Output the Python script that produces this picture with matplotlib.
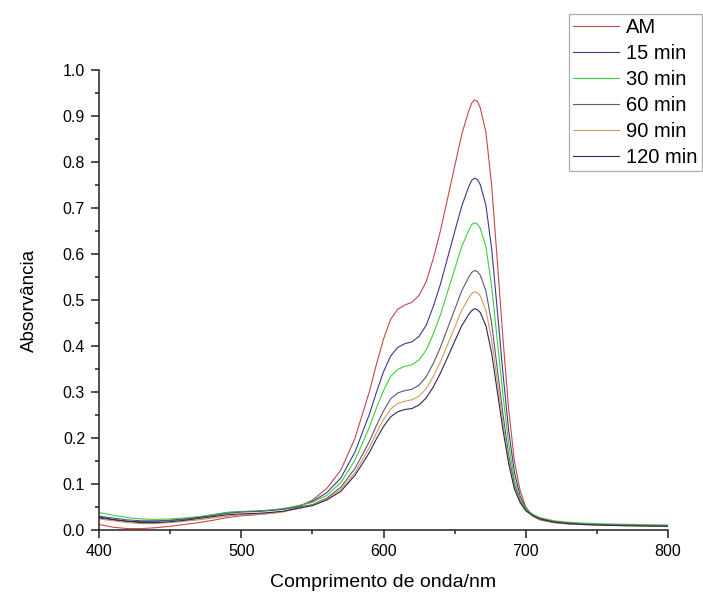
import matplotlib
matplotlib.use("Agg")
import matplotlib.pyplot as plt
from matplotlib.ticker import MultipleLocator

plt.rcParams['font.family'] = ['Liberation Sans', 'DejaVu Sans']

wavelength = [400, 410, 420, 430, 440, 450, 460, 470, 480, 490, 500, 510, 520, 530, 540,
              550, 560, 570, 580, 590, 595, 600, 605, 610, 615, 620, 625, 630, 635, 640,
              645, 650, 655, 660, 662, 664, 666, 668, 672, 676, 680, 684, 688, 692, 696, 700,
              705, 710, 720, 730, 740, 750, 760, 780, 800]

am = [0.012, 0.006, 0.003, 0.003, 0.005, 0.008, 0.012, 0.016, 0.021, 0.027, 0.031, 0.033, 0.036, 0.040, 0.049,
      0.065, 0.090, 0.130, 0.200, 0.300, 0.360, 0.415, 0.458, 0.480, 0.489, 0.495, 0.510, 0.540, 0.590, 0.650,
      0.720, 0.790, 0.860, 0.912, 0.928, 0.935, 0.932, 0.918, 0.865, 0.750, 0.585, 0.415, 0.262, 0.150, 0.086, 0.050,
      0.030, 0.022, 0.016, 0.013, 0.012, 0.011, 0.010, 0.009, 0.008]
min15 = [0.026, 0.022, 0.019, 0.018, 0.019, 0.021, 0.024, 0.028, 0.033, 0.038, 0.040, 0.041, 0.043, 0.046, 0.052,
         0.062, 0.081, 0.113, 0.170, 0.251, 0.299, 0.344, 0.378, 0.397, 0.405, 0.409, 0.421, 0.445, 0.486, 0.534,
         0.591, 0.648, 0.704, 0.747, 0.760, 0.765, 0.762, 0.751, 0.706, 0.612, 0.478, 0.340, 0.216, 0.126, 0.074, 0.047,
         0.032, 0.025, 0.018, 0.015, 0.013, 0.012, 0.011, 0.010, 0.009]
min30 = [0.038, 0.032, 0.027, 0.024, 0.023, 0.024, 0.026, 0.029, 0.033, 0.038, 0.040, 0.041, 0.043, 0.047, 0.053,
         0.060, 0.075, 0.103, 0.152, 0.223, 0.265, 0.303, 0.334, 0.349, 0.356, 0.359, 0.370, 0.391, 0.426, 0.468,
         0.517, 0.567, 0.616, 0.652, 0.664, 0.668, 0.665, 0.656, 0.616, 0.531, 0.412, 0.293, 0.187, 0.110, 0.068, 0.046,
         0.034, 0.027, 0.020, 0.017, 0.015, 0.014, 0.013, 0.012, 0.011]
min60 = [0.030, 0.026, 0.022, 0.020, 0.020, 0.021, 0.023, 0.027, 0.031, 0.036, 0.039, 0.040, 0.042, 0.045, 0.050,
         0.055, 0.069, 0.093, 0.134, 0.192, 0.227, 0.259, 0.285, 0.298, 0.303, 0.306, 0.315, 0.333, 0.362, 0.397,
         0.438, 0.479, 0.520, 0.550, 0.560, 0.564, 0.562, 0.554, 0.520, 0.450, 0.350, 0.251, 0.163, 0.099, 0.063, 0.043,
         0.032, 0.025, 0.018, 0.015, 0.013, 0.012, 0.011, 0.010, 0.009]
min90 = [0.024, 0.020, 0.016, 0.014, 0.014, 0.016, 0.019, 0.022, 0.026, 0.030, 0.033, 0.034, 0.036, 0.040, 0.047,
         0.054, 0.067, 0.088, 0.125, 0.179, 0.211, 0.240, 0.263, 0.275, 0.280, 0.283, 0.291, 0.307, 0.334, 0.366,
         0.403, 0.440, 0.478, 0.505, 0.514, 0.518, 0.516, 0.509, 0.478, 0.414, 0.323, 0.232, 0.152, 0.093, 0.061, 0.042,
         0.031, 0.024, 0.017, 0.014, 0.012, 0.011, 0.010, 0.009, 0.008]
min120 = [0.028, 0.023, 0.019, 0.016, 0.016, 0.018, 0.021, 0.025, 0.029, 0.033, 0.035, 0.036, 0.038, 0.041, 0.047,
          0.053, 0.065, 0.084, 0.119, 0.168, 0.198, 0.225, 0.246, 0.257, 0.262, 0.264, 0.272, 0.287, 0.311, 0.341,
          0.375, 0.410, 0.444, 0.469, 0.477, 0.481, 0.479, 0.473, 0.444, 0.385, 0.301, 0.217, 0.144, 0.089, 0.060, 0.042,
          0.031, 0.024, 0.017, 0.014, 0.012, 0.011, 0.010, 0.009, 0.008]

labels = ['AM', '15 min', '30 min', '60 min', '90 min', '120 min']
series = [am, min15, min30, min60, min90, min120]
colors = ['#c8474a', '#3a3a8c', '#3cd13c', '#5a5a78', '#d8995a', '#2a2a5a']

fig = plt.figure(figsize=(7.03, 5.99), dpi=100)
ax = fig.add_axes([99/703, 1-530/599, (668-99)/703, (530-70)/599])

for y, lab, c in zip(series, labels, colors):
    ax.plot(wavelength, y, color=c, lw=0.8, label=lab, solid_joinstyle='round')

ax.set_xlim(400, 800)
ax.set_ylim(0, 1.0)
ax.xaxis.set_major_locator(MultipleLocator(100))
ax.xaxis.set_minor_locator(MultipleLocator(50))
ax.yaxis.set_major_locator(MultipleLocator(0.1))
ax.yaxis.set_minor_locator(MultipleLocator(0.05))
ax.yaxis.set_major_formatter(matplotlib.ticker.FormatStrFormatter('%.1f'))
for s in ['top', 'right']:
    ax.spines[s].set_visible(False)
for s in ['left', 'bottom']:
    ax.spines[s].set_linewidth(1.1)
    ax.spines[s].set_color('#222222')
ax.tick_params(which='major', direction='out', length=6, width=1.1, labelsize=11.5, pad=4, color='#222222')
ax.tick_params(which='minor', direction='out', length=3, width=1.1, color='#222222')

ax.set_xlabel('Comprimento de onda/nm', fontsize=14, labelpad=11)
ax.set_ylabel('Absorvância', fontsize=13.5, labelpad=18)

leg = ax.legend(loc='upper left', bbox_to_anchor=(569/703, 1-14/599), bbox_transform=fig.transFigure,
                fontsize=14.5, frameon=True, fancybox=False, borderaxespad=0, borderpad=0.2,
                labelspacing=0.35, handlelength=2.3, handletextpad=0.35)
leg.get_frame().set_edgecolor('#999999')
leg.get_frame().set_linewidth(0.9)

fig.savefig('out.png', dpi=100)
